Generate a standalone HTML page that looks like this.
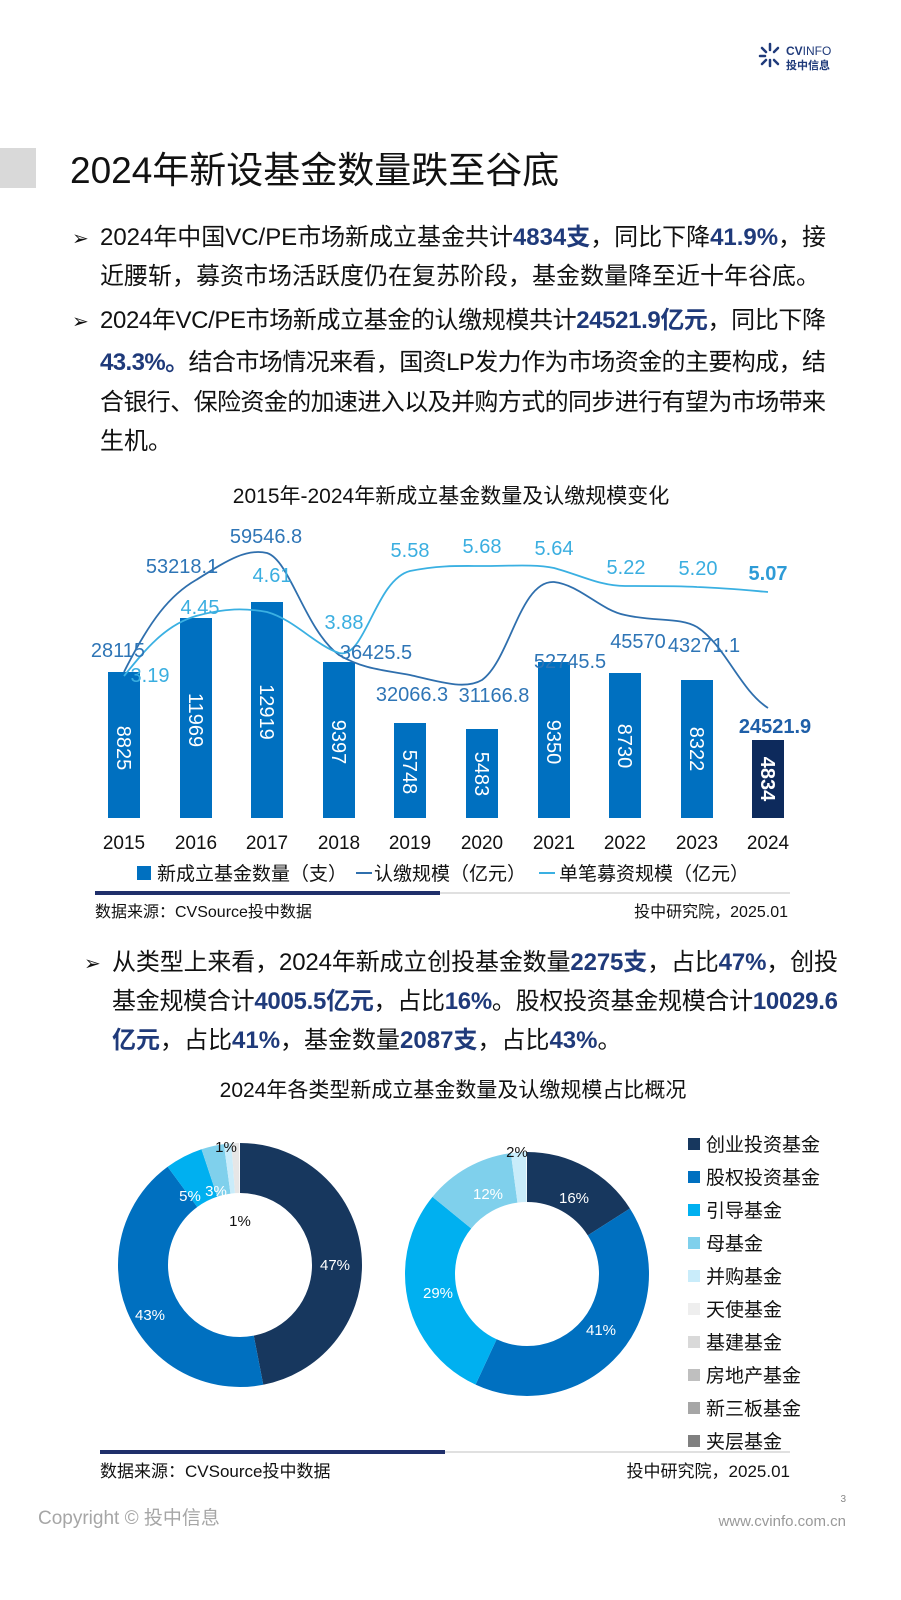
<!DOCTYPE html>
<html><head><meta charset="utf-8"><style>
html,body{margin:0;padding:0;background:#fff}
svg{display:block}
text{font-family:"Liberation Sans","Noto Sans CJK SC",sans-serif}
.b{font-weight:bold;fill:#1f3a7a}
</style></head><body>
<svg width="901" height="1600" viewBox="0 0 901 1600" xmlns="http://www.w3.org/2000/svg">
<g stroke="#1f3a7a" stroke-width="2.5" stroke-linecap="round">
<line x1="770" y1="44" x2="770" y2="50"/><line x1="762" y1="48" x2="766" y2="52"/><line x1="778" y1="48" x2="774" y2="52"/>
<line x1="760" y1="56" x2="765" y2="56"/><line x1="762" y1="64" x2="766" y2="60"/><line x1="770" y1="66" x2="770" y2="60"/><line x1="778" y1="64" x2="774" y2="60"/>
</g>
<text x="786" y="55" font-size="12" font-weight="bold" fill="#1f3a7a">CV<tspan font-weight="normal">INFO</tspan></text>
<text x="786" y="69" font-size="11" font-weight="bold" fill="#1f3a7a">投中信息</text>
<rect x="0" y="148" width="36" height="40" fill="#d9d9d9"/>
<text x="70" y="183" font-size="37" fill="#111">2024年新设基金数量跌至谷底</text>
<g font-size="24" fill="#111">
<text x="72" y="245" font-size="20">➢</text>
<text x="100" y="245" textLength="726" lengthAdjust="spacing">2024年中国VC/PE市场新成立基金共计<tspan class="b">4834支</tspan>，同比下降<tspan class="b">41.9%</tspan>，接</text>
<text x="100" y="284">近腰斩，募资市场活跃度仍在复苏阶段，基金数量降至近十年谷底。</text>
<text x="72" y="328" font-size="20">➢</text>
<text x="100" y="328" textLength="726" lengthAdjust="spacing">2024年VC/PE市场新成立基金的认缴规模共计<tspan class="b">24521.9亿元</tspan>，同比下降</text>
<text x="100" y="370" textLength="726" lengthAdjust="spacing"><tspan class="b">43.3%。</tspan>结合市场情况来看，国资LP发力作为市场资金的主要构成，结</text>
<text x="100" y="410" textLength="726" lengthAdjust="spacing">合银行、保险资金的加速进入以及并购方式的同步进行有望为市场带来</text>
<text x="100" y="449">生机。</text>
</g>
<text x="451" y="503" font-size="21" fill="#111" text-anchor="middle">2015年-2024年新成立基金数量及认缴规模变化</text>
<g fill="#0070c0">
<rect x="108" y="672" width="32" height="146"/>
<rect x="180" y="618" width="32" height="200"/>
<rect x="251" y="602" width="32" height="216"/>
<rect x="323" y="662" width="32" height="156"/>
<rect x="394" y="723" width="32" height="95"/>
<rect x="466" y="729" width="32" height="89"/>
<rect x="538" y="662" width="32" height="156"/>
<rect x="609" y="673" width="32" height="145"/>
<rect x="681" y="680" width="32" height="138"/>
<rect x="752" y="740" width="32" height="78" fill="#0d2a5c"/>
</g>
<g font-size="20" fill="#fff" text-anchor="middle">
<text transform="translate(117,748) rotate(90)">8825</text>
<text transform="translate(189,720) rotate(90)">11969</text>
<text transform="translate(260,712) rotate(90)">12919</text>
<text transform="translate(332,742) rotate(90)">9397</text>
<text transform="translate(403,772) rotate(90)">5748</text>
<text transform="translate(475,774) rotate(90)">5483</text>
<text transform="translate(547,742) rotate(90)">9350</text>
<text transform="translate(618,746) rotate(90)">8730</text>
<text transform="translate(690,749) rotate(90)">8322</text>
<text transform="translate(761,779) rotate(90)" font-weight="bold">4834</text>
</g>
<path d="M124,672 C150,620 170,595 196,580 C225,562 245,548 267,553 C290,560 305,630 339,655 C365,670 385,670 410,675 C440,682 465,690 482,680 C510,660 520,580 554,582 C580,585 600,610 625,615 C655,622 680,617 697,627 C725,645 740,690 768,708" fill="none" stroke="#2f6fad" stroke-width="1.8"/>
<path d="M124,676 C145,650 165,625 196,616 C225,608 245,608 267,612 C295,620 315,645 339,653 C365,660 375,580 410,571 C440,565 460,566 482,566 C510,566 535,564 554,568 C580,575 600,586 625,586 C655,586 680,586 697,587 C725,588 745,590 768,592" fill="none" stroke="#3ab0e2" stroke-width="1.8"/>
<g font-size="20" fill="#2e75b6" text-anchor="middle">
<text x="118" y="657">28115</text>
<text x="182" y="573">53218.1</text>
<text x="266" y="543">59546.8</text>
<text x="376" y="659">36425.5</text>
<text x="412" y="701">32066.3</text>
<text x="494" y="702">31166.8</text>
<text x="570" y="668">52745.5</text>
<text x="638" y="648">45570</text>
<text x="704" y="652">43271.1</text>
<text x="775" y="733" font-weight="bold" fill="#1f5fa8">24521.9</text>
</g>
<g font-size="20" fill="#3aaee0" text-anchor="middle">
<text x="150" y="682">3.19</text>
<text x="200" y="614">4.45</text>
<text x="272" y="582">4.61</text>
<text x="344" y="629">3.88</text>
<text x="410" y="557">5.58</text>
<text x="482" y="553">5.68</text>
<text x="554" y="555">5.64</text>
<text x="626" y="574">5.22</text>
<text x="698" y="575">5.20</text>
<text x="768" y="580" font-weight="bold" fill="#2e9bd6">5.07</text>
</g>
<g font-size="19" fill="#111" text-anchor="middle">
<text x="124" y="849">2015</text><text x="196" y="849">2016</text><text x="267" y="849">2017</text><text x="339" y="849">2018</text><text x="410" y="849">2019</text><text x="482" y="849">2020</text><text x="554" y="849">2021</text><text x="625" y="849">2022</text><text x="697" y="849">2023</text><text x="768" y="849">2024</text>
</g>
<rect x="137" y="866" width="14" height="14" fill="#0070c0"/>
<text x="157" y="880" font-size="19" fill="#111">新成立基金数量（支）</text>
<line x1="356" y1="873" x2="372" y2="873" stroke="#2f6fad" stroke-width="2"/>
<text x="374" y="880" font-size="19" fill="#111">认缴规模（亿元）</text>
<line x1="539" y1="873" x2="555" y2="873" stroke="#3ab0e2" stroke-width="2"/>
<text x="559" y="880" font-size="19" fill="#111">单笔募资规模（亿元）</text>
<rect x="95" y="891" width="345" height="4" fill="#1f2f6b"/>
<rect x="440" y="892" width="350" height="2" fill="#e0e0e0"/>
<text x="95" y="917" font-size="16" fill="#111">数据来源：CVSource投中数据</text>
<text x="788" y="917" font-size="16" fill="#111" text-anchor="end">投中研究院，2025.01</text>
<g font-size="24" fill="#111">
<text x="84" y="970" font-size="20">➢</text>
<text x="112" y="970" textLength="726" lengthAdjust="spacing">从类型上来看，2024年新成立创投基金数量<tspan class="b">2275支</tspan>，占比<tspan class="b">47%</tspan>，创投</text>
<text x="112" y="1009" textLength="726" lengthAdjust="spacing">基金规模合计<tspan class="b">4005.5亿元</tspan>，占比<tspan class="b">16%</tspan>。股权投资基金规模合计<tspan class="b">10029.6</tspan></text>
<text x="112" y="1048"><tspan class="b">亿元</tspan>，占比<tspan class="b">41%</tspan>，基金数量<tspan class="b">2087支</tspan>，占比<tspan class="b">43%</tspan>。</text>
</g>
<text x="453" y="1097" font-size="21" fill="#111" text-anchor="middle">2024年各类型新成立基金数量及认缴规模占比概况</text>
<g transform="translate(240,1265) rotate(-90)" fill="none" stroke-width="50">
<circle r="97" stroke="#17375e" pathLength="100" stroke-dasharray="47 100" stroke-dashoffset="0"/>
<circle r="97" stroke="#0070c0" pathLength="100" stroke-dasharray="43 100" stroke-dashoffset="-47"/>
<circle r="97" stroke="#00b0f0" pathLength="100" stroke-dasharray="5 100" stroke-dashoffset="-90"/>
<circle r="97" stroke="#7fd0ec" pathLength="100" stroke-dasharray="3 100" stroke-dashoffset="-95"/>
<circle r="97" stroke="#c9ecfa" pathLength="100" stroke-dasharray="1 100" stroke-dashoffset="-98"/>
<circle r="97" stroke="#e6e6e6" pathLength="100" stroke-dasharray="1 100" stroke-dashoffset="-99"/>
</g>
<g transform="translate(527,1274) rotate(-90)" fill="none" stroke-width="50">
<circle r="97" stroke="#17375e" pathLength="100" stroke-dasharray="16 100" stroke-dashoffset="0"/>
<circle r="97" stroke="#0070c0" pathLength="100" stroke-dasharray="41 100" stroke-dashoffset="-16"/>
<circle r="97" stroke="#00b0f0" pathLength="100" stroke-dasharray="29 100" stroke-dashoffset="-57"/>
<circle r="97" stroke="#7fd0ec" pathLength="100" stroke-dasharray="12 100" stroke-dashoffset="-86"/>
<circle r="97" stroke="#c9ecfa" pathLength="100" stroke-dasharray="2 100" stroke-dashoffset="-98"/>
</g>
<g font-size="15" text-anchor="middle">
<text x="335" y="1270" fill="#fff">47%</text>
<text x="150" y="1320" fill="#fff">43%</text>
<text x="190" y="1201" fill="#fff">5%</text>
<text x="216" y="1196" fill="#fff">3%</text>
<text x="226" y="1152" fill="#111">1%</text>
<text x="240" y="1226" fill="#111">1%</text>
<text x="574" y="1203" fill="#fff">16%</text>
<text x="601" y="1335" fill="#fff">41%</text>
<text x="438" y="1298" fill="#fff">29%</text>
<text x="488" y="1199" fill="#fff">12%</text>
<text x="517" y="1157" fill="#111">2%</text>
</g>
<g font-size="19" fill="#111">
<rect x="688" y="1138" width="12" height="12" fill="#17375e"/><text x="706" y="1151">创业投资基金</text>
<rect x="688" y="1171" width="12" height="12" fill="#0070c0"/><text x="706" y="1184">股权投资基金</text>
<rect x="688" y="1204" width="12" height="12" fill="#00b0f0"/><text x="706" y="1217">引导基金</text>
<rect x="688" y="1237" width="12" height="12" fill="#7fd0ec"/><text x="706" y="1250">母基金</text>
<rect x="688" y="1270" width="12" height="12" fill="#c9ecfa"/><text x="706" y="1283">并购基金</text>
<rect x="688" y="1303" width="12" height="12" fill="#eeeeee"/><text x="706" y="1316">天使基金</text>
<rect x="688" y="1336" width="12" height="12" fill="#d9d9d9"/><text x="706" y="1349">基建基金</text>
<rect x="688" y="1369" width="12" height="12" fill="#bfbfbf"/><text x="706" y="1382">房地产基金</text>
<rect x="688" y="1402" width="12" height="12" fill="#a6a6a6"/><text x="706" y="1415">新三板基金</text>
<rect x="688" y="1435" width="12" height="12" fill="#808080"/><text x="706" y="1448">夹层基金</text>
</g>
<rect x="100" y="1450" width="345" height="4" fill="#1f2f6b"/>
<rect x="445" y="1451" width="345" height="2" fill="#e0e0e0"/>
<text x="100" y="1477" font-size="17" fill="#111">数据来源：CVSource投中数据</text>
<text x="790" y="1477" font-size="17" fill="#111" text-anchor="end">投中研究院，2025.01</text>
<text x="38" y="1524" font-size="19" fill="#a6a6a6">Copyright © 投中信息</text>
<text x="846" y="1502" font-size="10" fill="#888" text-anchor="end">3</text>
<text x="846" y="1526" font-size="15" fill="#999" text-anchor="end" font-family="Liberation Mono, monospace">www.cvinfo.com.cn</text>
</svg>
</body></html>
